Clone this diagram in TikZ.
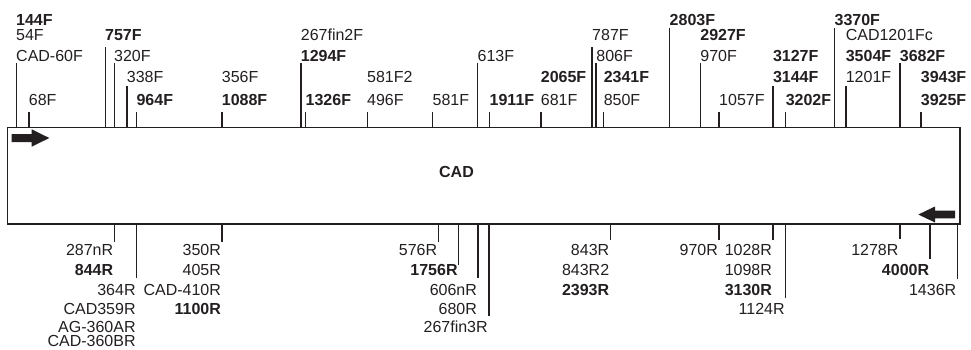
\documentclass[tikz,border=0pt]{standalone}
\usepackage{fontspec}
\setmainfont{Liberation Sans}
\definecolor{ink}{RGB}{35,31,32}
\newcommand{\lblfont}{\fontsize{16}{19}\selectfont}

\begin{document}
\begin{tikzpicture}[x=1pt, y=-1pt,
  box/.style={draw=ink, line width=1.4pt, inner sep=0pt, outer sep=0pt,
    minimum width=952.5pt, minimum height=96.5pt},
  tick/.style={draw=ink, line width=1.5pt},
  lbl/.style={font=\lblfont, text=ink, inner sep=0pt},
  lblb/.style={lbl, font=\lblfont\bfseries},
  tl/.style={anchor=base west},
  bl/.style={anchor=base east},
  dirarrow/.style={fill=ink},
]
  \useasboundingbox (0,0) rectangle (971,349);

  % Gene box
  \node[box] (cad) at (483.75,175.75) {};
  \node[lblb] (cadname) at (456.5,172) {CAD};

  % Direction arrows
  \fill[dirarrow] (11.7,134) -- (31.7,134) -- (31.7,129.3) -- (49.3,138)
    -- (31.7,146.7) -- (31.7,142) -- (11.7,142) -- cycle;
  \fill[dirarrow] (955,210.7) -- (935,210.7) -- (935,206.5) -- (918.3,214.5)
    -- (935,222.5) -- (935,218.3) -- (955,218.3) -- cycle;

  % Forward primers
  \coordinate (f144) at (16.3,63);
  \draw[tick] (f144) -- (f144 |- cad.north);
  \node[lblb, tl] (l144F) at (16,25) {144F};
  \node[lbl, tl] (l54F) at (16,40.5) {54F};
  \node[lbl, tl] (lCAD60F) at (16,61) {CAD-60F};

  \coordinate (f68) at (29,112);
  \draw[tick] (f68) -- (f68 |- cad.north);
  \node[lbl, tl] (l68F) at (28.7,105) {68F};

  \coordinate (f757) at (105.3,47);
  \draw[tick] (f757) -- (f757 |- cad.north);
  \node[lblb, tl] (l757F) at (105,40.5) {757F};

  \coordinate (f320) at (114.3,63);
  \draw[tick] (f320) -- (f320 |- cad.north);
  \node[lbl, tl] (l320F) at (114,61) {320F};

  \coordinate (f338) at (127,86);
  \draw[tick] (f338) -- (f338 |- cad.north);
  \node[lbl, tl] (l338F) at (126.7,82) {338F};

  \coordinate (f964) at (136.7,112);
  \draw[tick] (f964) -- (f964 |- cad.north);
  \node[lblb, tl] (l964F) at (136.4,105) {964F};

  \coordinate (f1088) at (222,112);
  \draw[tick] (f1088) -- (f1088 |- cad.north);
  \node[lbl, tl] (l356F) at (221.7,82) {356F};
  \node[lblb, tl] (l1088F) at (221.7,105) {1088F};

  \coordinate (f1294) at (301,63);
  \draw[tick] (f1294) -- (f1294 |- cad.north);
  \node[lbl, tl] (l267fin2F) at (300.7,40.5) {267fin2F};
  \node[lblb, tl] (l1294F) at (300.7,61) {1294F};

  \coordinate (f1326) at (305.3,112);
  \draw[tick] (f1326) -- (f1326 |- cad.north);
  \node[lblb, tl] (l1326F) at (305.5,105) {1326F};

  \coordinate (f496) at (367.3,112);
  \draw[tick] (f496) -- (f496 |- cad.north);
  \node[lbl, tl] (l581F2) at (367,82) {581F2};
  \node[lbl, tl] (l496F) at (367,105) {496F};

  \coordinate (f581) at (432.7,112);
  \draw[tick] (f581) -- (f581 |- cad.north);
  \node[lbl, tl] (l581F) at (432.4,105) {581F};

  \coordinate (f613) at (477.7,63);
  \draw[tick] (f613) -- (f613 |- cad.north);
  \node[lbl, tl] (l613F) at (477.4,61) {613F};

  \coordinate (f1911) at (489.3,112);
  \draw[tick] (f1911) -- (f1911 |- cad.north);
  \node[lblb, tl] (l1911F) at (489.5,105) {1911F};

  \coordinate (f681) at (541,112);
  \draw[tick] (f681) -- (f681 |- cad.north);
  \node[lblb, tl] (l2065F) at (540.7,82) {2065F};
  \node[lbl, tl] (l681F) at (540.7,105) {681F};

  \coordinate (f787) at (592,47);
  \draw[tick] (f787) -- (f787 |- cad.north);
  \node[lbl, tl] (l787F) at (592,40.5) {787F};

  \coordinate (f806) at (596,63);
  \draw[tick] (f806) -- (f806 |- cad.north);
  \node[lbl, tl] (l806F) at (596.2,61) {806F};

  \coordinate (f850) at (603.7,112);
  \draw[tick] (f850) -- (f850 |- cad.north);
  \node[lblb, tl] (l2341F) at (603.6,82) {2341F};
  \node[lbl, tl] (l850F) at (603.6,105) {850F};

  \coordinate (f2803) at (669.7,28.3);
  \draw[tick] (f2803) -- (f2803 |- cad.north);
  \node[lblb, tl] (l2803F) at (669.5,25) {2803F};

  \coordinate (f970) at (700.3,63);
  \draw[tick] (f970) -- (f970 |- cad.north);
  \node[lblb, tl] (l2927F) at (700.2,40.5) {2927F};
  \node[lbl, tl] (l970F) at (700.2,61) {970F};

  \coordinate (f1057) at (719,112);
  \draw[tick] (f1057) -- (f1057 |- cad.north);
  \node[lbl, tl] (l1057F) at (719,105) {1057F};

  \coordinate (f3144) at (773,86);
  \draw[tick] (f3144) -- (f3144 |- cad.north);
  \node[lblb, tl] (l3127F) at (772.8,61) {3127F};
  \node[lblb, tl] (l3144F) at (772.8,82) {3144F};

  \coordinate (f3202) at (785.7,112);
  \draw[tick] (f3202) -- (f3202 |- cad.north);
  \node[lblb, tl] (l3202F) at (785.6,105) {3202F};

  \coordinate (f3370) at (834.3,28.3);
  \draw[tick] (f3370) -- (f3370 |- cad.north);
  \node[lblb, tl] (l3370F) at (834.4,25) {3370F};

  \coordinate (f1201) at (846,86);
  \draw[tick] (f1201) -- (f1201 |- cad.north);
  \node[lbl, tl] (lCAD1201Fc) at (845.6,40.5) {CAD1201Fc};
  \node[lblb, tl] (l3504F) at (845.6,61) {3504F};
  \node[lbl, tl] (l1201F) at (845.6,82) {1201F};

  \coordinate (f3682) at (900,63);
  \draw[tick] (f3682) -- (f3682 |- cad.north);
  \node[lblb, tl] (l3682F) at (899.7,61) {3682F};

  \coordinate (f3925) at (921,112);
  \draw[tick] (f3925) -- (f3925 |- cad.north);
  \node[lblb, tl] (l3943F) at (920.7,82) {3943F};
  \node[lblb, tl] (l3925F) at (920.7,105) {3925F};

  % Reverse primers
  \coordinate (r287) at (114.3,241.7);
  \draw[tick] (r287) -- (r287 |- cad.south);
  \node[lbl, bl] (l287nR) at (113.4,255) {287nR};
  \node[lblb, bl] (l844R) at (113.4,275) {844R};

  \coordinate (r364) at (136.7,278.3);
  \draw[tick] (r364) -- (r364 |- cad.south);
  \node[lbl, bl] (l364R) at (135.8,295) {364R};
  \node[lbl, bl] (lCAD359R) at (135.8,314) {CAD359R};
  \node[lbl, bl] (lAG360AR) at (135.8,332) {AG-360AR};
  \node[lbl, bl] (lCAD360BR) at (135.8,346.5) {CAD-360BR};

  \coordinate (r350) at (222,241.7);
  \draw[tick] (r350) -- (r350 |- cad.south);
  \node[lbl, bl] (l350R) at (221.1,255) {350R};
  \node[lbl, bl] (l405R) at (221.1,275) {405R};
  \node[lbl, bl] (lCAD410R) at (221.1,295) {CAD-410R};
  \node[lblb, bl] (l1100R) at (221.1,314) {1100R};

  \coordinate (r576) at (438.3,241.7);
  \draw[tick] (r576) -- (r576 |- cad.south);
  \node[lbl, bl] (l576R) at (437.4,255) {576R};

  \coordinate (r1756) at (458.7,265);
  \draw[tick] (r1756) -- (r1756 |- cad.south);
  \node[lblb, bl] (l1756R) at (457.8,275) {1756R};

  \coordinate (r606) at (478,278.3);
  \draw[tick] (r606) -- (r606 |- cad.south);
  \node[lbl, bl] (l606nR) at (477.1,295) {606nR};
  \node[lbl, bl] (l680R) at (477.1,314) {680R};

  \coordinate (r267) at (488.8,316);
  \draw[tick] (r267) -- (r267 |- cad.south);
  \node[lbl, bl] (l267fin3R) at (487.9,332) {267fin3R};

  \coordinate (r843) at (610.3,239.5);
  \draw[tick] (r843) -- (r843 |- cad.south);
  \node[lbl, bl] (l843R) at (609.4,255) {843R};
  \node[lbl, bl] (l843R2) at (609.4,275) {843R2};
  \node[lblb, bl] (l2393R) at (609.4,295) {2393R};

  \coordinate (r970) at (719,240);
  \draw[tick] (r970) -- (r970 |- cad.south);
  \node[lbl, bl] (l970R) at (718.1,255) {970R};

  \coordinate (r1028) at (773,239.5);
  \draw[tick] (r1028) -- (r1028 |- cad.south);
  \node[lbl, bl] (l1028R) at (772.1,255) {1028R};
  \node[lbl, bl] (l1098R) at (772.1,275) {1098R};
  \node[lblb, bl] (l3130R) at (772.1,295) {3130R};

  \coordinate (r1124) at (785.7,298.3);
  \draw[tick] (r1124) -- (r1124 |- cad.south);
  \node[lbl, bl] (l1124R) at (784.8,314) {1124R};

  \coordinate (r1278) at (900,238.5);
  \draw[tick] (r1278) -- (r1278 |- cad.south);
  \node[lbl, bl] (l1278R) at (898.6,255) {1278R};

  \coordinate (r4000) at (930,259.3);
  \draw[tick] (r4000) -- (r4000 |- cad.south);
  \node[lblb, bl] (l4000R) at (929.3,275) {4000R};

  \coordinate (r1436) at (957.3,279.3);
  \draw[tick] (r1436) -- (r1436 |- cad.south);
  \node[lbl, bl] (l1436R) at (956.4,295) {1436R};
\end{tikzpicture}
\end{document}
